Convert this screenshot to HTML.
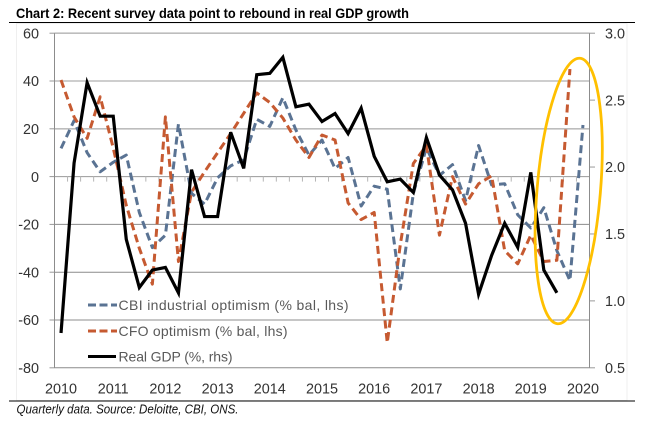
<!DOCTYPE html>
<html lang="en">
<head>
<meta charset="utf-8">
<title>Chart 2</title>
<style>
html,body{margin:0;padding:0;background:#fff;}
body{width:654px;height:424px;overflow:hidden;}
svg{display:block;font-family:"Liberation Sans",sans-serif;}
</style>
</head>
<body>
<svg id="chart" xmlns="http://www.w3.org/2000/svg" width="654" height="424" viewBox="0 0 654 424">
  <rect x="16.5" y="23.5" width="610.5" height="377" fill="#fff" stroke="#efefef" stroke-width="1"/>
  <text x="16" y="18" font-size="14" font-weight="bold" fill="#000" textLength="393" lengthAdjust="spacingAndGlyphs">Chart 2: Recent survey data point to rebound in real GDP growth</text>
  <line x1="9" x2="635" y1="22.5" y2="22.5" stroke="#000" stroke-width="1"/>
  <line x1="9" x2="635" y1="401" y2="401" stroke="#000" stroke-width="1"/>
  <text x="16.5" y="413.5" font-size="12.5" font-style="italic" fill="#111" textLength="222" lengthAdjust="spacingAndGlyphs">Quarterly data. Source: Deloitte, CBI, ONS.</text>
  <g id="grid"></g>
  <g id="axes"></g>
  <g id="series"></g>
  <g>
    <line x1="88" x2="117" y1="305" y2="305" stroke="#5a7393" stroke-width="3" stroke-dasharray="8 3.5"/>
    <text x="118.5" y="310" font-size="14" fill="#595959" textLength="230" lengthAdjust="spacing">CBI industrial optimism (% bal, lhs)</text>
    <line x1="88" x2="117" y1="331" y2="331" stroke="#c65a31" stroke-width="3" stroke-dasharray="8 3.5"/>
    <text x="118.5" y="336" font-size="14" fill="#595959" textLength="169" lengthAdjust="spacing">CFO optimism (% bal, lhs)</text>
    <line x1="88" x2="116" y1="356.5" y2="356.5" stroke="#000" stroke-width="3"/>
    <text x="118.5" y="361.5" font-size="14" fill="#595959" textLength="114" lengthAdjust="spacing">Real GDP (%, rhs)</text>
  </g>
  <ellipse cx="568.7" cy="191" rx="31.7" ry="133.2" transform="rotate(4.84 568.7 191)" fill="none" stroke="#ffc000" stroke-width="2.8"/>
</svg>
<script>
const yearLabels = ["2010","2011","2012","2013","2014","2015","2016","2017","2018","2019","2020"];
const leftTicks = [60,40,20,0,-20,-40,-60,-80];
const rightTicks = ["3.0","2.5","2.0","1.5","1.0","0.5"];
const cbiOptimism = [11.8,23.4,10,2,6,9,-15,-29.7,-24.5,22,-7,-11.5,-0.5,4.5,7,24,21,33,19.5,9,15.3,3.4,8,-12.3,-4,-5.3,-47,-7,12,0.5,5,-10,13,-3.5,-3,-16,-21.5,-13,-31,-43.5,21.6];
const cfoOptimism = [40.4,25,16,33.4,12,-12,-30,-45,25,-35.5,-6.5,2,10,18,26.5,35,31,24.5,15.3,8,17.4,15.3,-11,-18,-15,-69.5,-28.5,5.5,13,-24.5,0,-11.5,-3,0.3,-31,-36.5,-24.5,-35.5,-35,45];
const realGdp = [0.76,2.03,2.63,2.38,2.38,1.46,1.10,1.23,1.25,1.06,1.98,1.63,1.63,2.26,1.99,2.69,2.70,2.82,2.45,2.47,2.34,2.40,2.25,2.44,2.08,1.89,1.91,1.81,2.22,1.94,1.83,1.58,1.05,1.34,1.58,1.40,1.96,1.23,1.06];

const NS = "http://www.w3.org/2000/svg";
const plotLeft = 54.5, plotRight = 589.5, plotTop = 33.2, plotBottom = 367.8;
const categoryCount = 41;
const step = (plotRight - plotLeft) / categoryCount;
function xScale(i){ return plotLeft + step * (i + 0.5); }
function yLeft(v){ return plotTop + (60 - v) / 140 * (plotBottom - plotTop); }
function yRight(v){ return plotTop + (3 - v) / 2.5 * (plotBottom - plotTop); }
function make(tag, attrs, parent, text){
  const el = document.createElementNS(NS, tag);
  for (const k in attrs) el.setAttribute(k, attrs[k]);
  if (text !== undefined) el.textContent = text;
  parent.appendChild(el);
  return el;
}
const grid = document.getElementById("grid");
const axes = document.getElementById("axes");
const series = document.getElementById("series");

leftTicks.forEach(function(t){
  const y = yLeft(t);
  const light = t >= 20;
  const g = make("line", {x1: plotLeft, x2: plotRight, y1: y, y2: y, stroke: light ? "#bdbdbd" : (t === 0 ? "#999" : "#8c8c8c"), "stroke-width": light ? 1.6 : 1}, grid);
  
  
  const tk = make("line", {x1: 49.5, x2: plotLeft, y1: y, y2: y, stroke: "#999", "stroke-width": 1}, axes);
  
  
  const lb = make("text", {x: 39, y: y + 5.2, "text-anchor": "end", "font-size": 14.4, fill: "#333"}, axes, String(t));
  
  
});

rightTicks.forEach(function(t){
  const y = yRight(parseFloat(t));
  const tk = make("line", {x1: plotRight, x2: 595, y1: y, y2: y, stroke: "#999", "stroke-width": 1}, axes);
  
  
  const lb = make("text", {x: 605, y: y + 5.2, "font-size": 14.4, fill: "#333"}, axes, t);
  
  
});

const leftAxis = make("line", {x1: plotLeft, x2: plotLeft, y1: plotTop, y2: plotBottom, stroke: "#8c8c8c", "stroke-width": 1}, axes);


const rightAxis = make("line", {x1: plotRight, x2: plotRight, y1: plotTop, y2: plotBottom, stroke: "#8c8c8c", "stroke-width": 1}, axes);



for (let k = 1; k < categoryCount; k++) {
  const x = plotLeft + step * k;
  const y0 = yLeft(0);
  const tk = make("line", {x1: x, x2: x, y1: y0, y2: y0 + 5, stroke: "#b5b5b5", "stroke-width": 1}, axes);
  
  
}

yearLabels.forEach(function(label, i){
  const lb = make("text", {x: xScale(i * 4), y: 393.7, "text-anchor": "middle", "font-size": 14.4, fill: "#333"}, axes, label);
  
  
});

function linePoints(values, yFn){
  return values.map(function(v, i){ return xScale(i).toFixed(2) + "," + yFn(v).toFixed(2); }).join(" ");
}
const cbiLine = make("polyline", {points: linePoints(cbiOptimism, yLeft), fill: "none", stroke: "#5a7393", "stroke-width": 3, "stroke-dasharray": "8 4.5", "stroke-linejoin": "round"}, series);


const cfoLine = make("polyline", {points: linePoints(cfoOptimism, yLeft), fill: "none", stroke: "#c65a31", "stroke-width": 3, "stroke-dasharray": "8 4.5", "stroke-linejoin": "round"}, series);


const gdpLine = make("polyline", {points: linePoints(realGdp, yRight), fill: "none", stroke: "#000", "stroke-width": 3.2, "stroke-linejoin": "miter"}, series);


</script>
</body>
</html>
